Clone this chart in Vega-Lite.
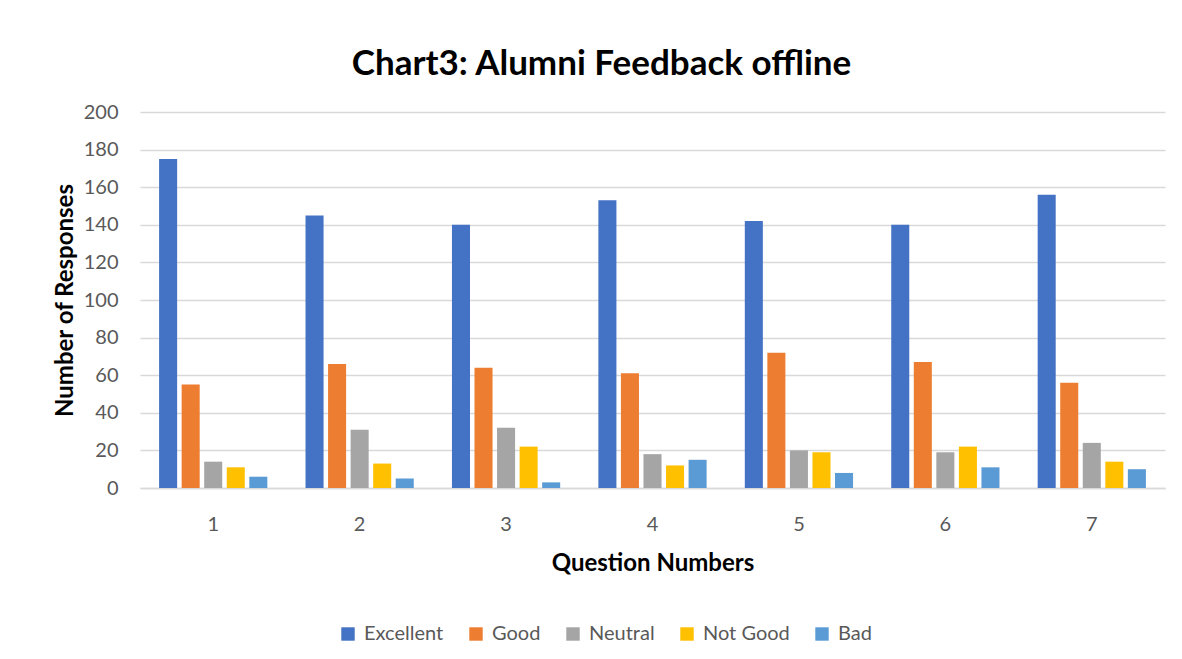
{
  "$schema": "https://vega.github.io/schema/vega-lite/v6.json",
  "width": 1025,
  "height": 376,
  "autosize": "none",
  "padding": {"left": 140, "top": 112, "right": 17, "bottom": 171},
  "background": "white",
  "title": {
    "text": "Chart3: Alumni Feedback offline",
    "font": "Lato",
    "fontSize": 35,
    "fontWeight": "bold",
    "color": "#000000",
    "anchor": "middle",
    "frame": "group",
    "dx": -51,
    "offset": 20
  },
  "data": {
    "values": [
      {"q": "1", "rating": "Excellent", "n": 175},
      {"q": "1", "rating": "Good", "n": 55},
      {"q": "1", "rating": "Neutral", "n": 14},
      {"q": "1", "rating": "Not Good", "n": 11},
      {"q": "1", "rating": "Bad", "n": 6},
      {"q": "2", "rating": "Excellent", "n": 145},
      {"q": "2", "rating": "Good", "n": 66},
      {"q": "2", "rating": "Neutral", "n": 31},
      {"q": "2", "rating": "Not Good", "n": 13},
      {"q": "2", "rating": "Bad", "n": 5},
      {"q": "3", "rating": "Excellent", "n": 140},
      {"q": "3", "rating": "Good", "n": 64},
      {"q": "3", "rating": "Neutral", "n": 32},
      {"q": "3", "rating": "Not Good", "n": 22},
      {"q": "3", "rating": "Bad", "n": 3},
      {"q": "4", "rating": "Excellent", "n": 153},
      {"q": "4", "rating": "Good", "n": 61},
      {"q": "4", "rating": "Neutral", "n": 18},
      {"q": "4", "rating": "Not Good", "n": 12},
      {"q": "4", "rating": "Bad", "n": 15},
      {"q": "5", "rating": "Excellent", "n": 142},
      {"q": "5", "rating": "Good", "n": 72},
      {"q": "5", "rating": "Neutral", "n": 20},
      {"q": "5", "rating": "Not Good", "n": 19},
      {"q": "5", "rating": "Bad", "n": 8},
      {"q": "6", "rating": "Excellent", "n": 140},
      {"q": "6", "rating": "Good", "n": 67},
      {"q": "6", "rating": "Neutral", "n": 19},
      {"q": "6", "rating": "Not Good", "n": 22},
      {"q": "6", "rating": "Bad", "n": 11},
      {"q": "7", "rating": "Excellent", "n": 156},
      {"q": "7", "rating": "Good", "n": 56},
      {"q": "7", "rating": "Neutral", "n": 24},
      {"q": "7", "rating": "Not Good", "n": 14},
      {"q": "7", "rating": "Bad", "n": 10}
    ]
  },
  "mark": {"type": "bar"},
  "encoding": {
    "x": {
      "field": "q",
      "type": "nominal",
      "scale": {"paddingInner": 0.23, "paddingOuter": 0.115},
      "axis": {
        "title": "Question Numbers",
        "titleFont": "Lato",
        "titleFontSize": 24,
        "titleFontWeight": "bold",
        "titleColor": "#000000",
        "titlePadding": 17,
        "labelAngle": 0,
        "labelFont": "Lato",
        "labelFontSize": 20,
        "labelColor": "#595959",
        "labelPadding": 26,
        "ticks": false,
        "domainColor": "#d9d9d9",
        "domainWidth": 1.5,
        "grid": false
      }
    },
    "xOffset": {
      "field": "rating",
      "type": "nominal",
      "sort": ["Excellent", "Good", "Neutral", "Not Good", "Bad"],
      "scale": {"paddingInner": 0.2, "paddingOuter": 0.1}
    },
    "y": {
      "field": "n",
      "type": "quantitative",
      "scale": {"domain": [0, 200]},
      "axis": {
        "title": "Number of Responses",
        "titleFont": "Lato",
        "titleFontSize": 24,
        "titleFontWeight": "bold",
        "titleColor": "#000000",
        "titlePadding": 6,
        "values": [0, 20, 40, 60, 80, 100, 120, 140, 160, 180, 200],
        "labelFont": "Lato",
        "labelFontSize": 20,
        "labelColor": "#595959",
        "labelPadding": 22,
        "ticks": false,
        "domain": false,
        "gridColor": "#d9d9d9",
        "gridWidth": 1.5
      }
    },
    "color": {
      "field": "rating",
      "type": "nominal",
      "sort": ["Excellent", "Good", "Neutral", "Not Good", "Bad"],
      "scale": {
        "domain": ["Excellent", "Good", "Neutral", "Not Good", "Bad"],
        "range": ["#4472C4", "#ED7D31", "#A5A5A5", "#FFC000", "#5B9BD5"]
      },
      "legend": {
        "title": null,
        "orient": "none",
        "direction": "horizontal",
        "legendX": 198,
        "legendY": 512,
        "symbolType": "square",
        "symbolSize": 180,
        "symbolStrokeWidth": 0,
        "labelFont": "Lato",
        "labelFontSize": 20,
        "labelColor": "#595959",
        "columnPadding": 22,
        "labelOffset": 6
      }
    }
  },
  "config": {"view": {"stroke": null}}
}
